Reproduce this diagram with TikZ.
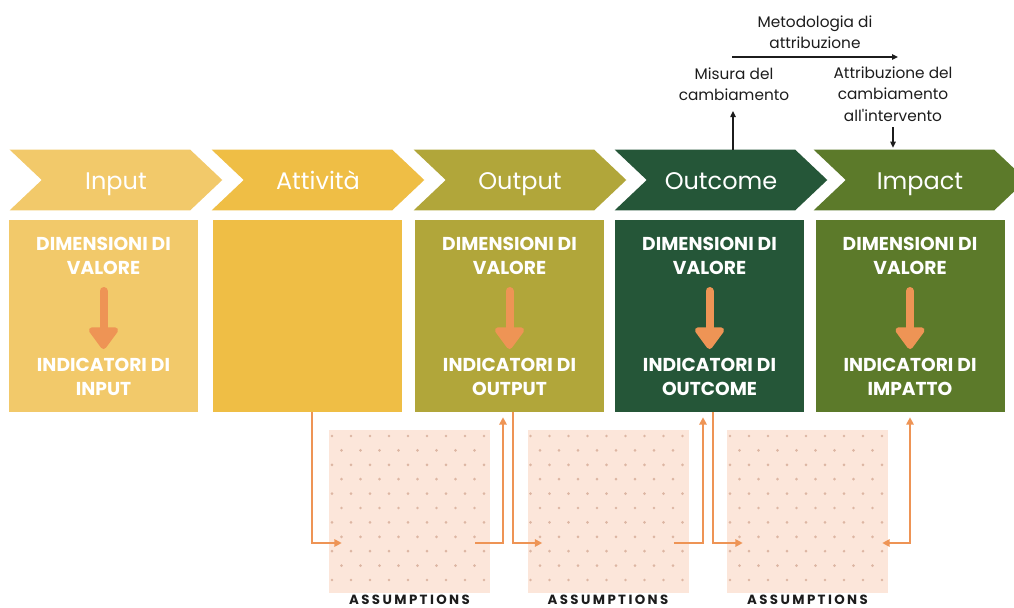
\documentclass[tikz,border=0pt]{standalone}
\usepackage{fontspec}
\setmainfont{Poppins}
\usetikzlibrary{arrows.meta}
\definecolor{cin}{HTML}{F2C96A}
\definecolor{cat}{HTML}{EFBE45}
\definecolor{cou}{HTML}{B1A63A}
\definecolor{coc}{HTML}{255638}
\definecolor{cim}{HTML}{5C7A2A}
\definecolor{corg}{HTML}{EE9455}
\definecolor{cas}{HTML}{FCE6DA}
\definecolor{cdot}{HTML}{DDB6A3}
\definecolor{ctx}{HTML}{1C1C1C}
\tikzset{
  chevbox/.style={minimum width=159pt, minimum height=45pt, inner sep=0pt},
  chevtext/.style={text=white, font=\fontsize{18}{20}\selectfont, inner sep=0pt, anchor=base},
  boxsty/.style={minimum width=141.75pt, minimum height=144pt, inner sep=0pt},
  boxtext/.style={text=white, align=center, font=\fontsize{14}{18}\bfseries\selectfont, inner sep=0pt},
  bigarrow/.style={draw=corg, line width=6pt, line cap=round, -{Triangle[length=18pt,width=25pt,round]}},
  assum/.style={fill=cas, minimum width=120.75pt, minimum height=122.25pt, inner sep=0pt},
  assumtext/.style={text=ctx, font=\fontsize{10}{12}\bfseries\addfontfeatures{LetterSpace=18}\selectfont, inner sep=0pt},
  conn/.style={draw=corg, line width=1.4pt, -{Triangle[length=5.5pt,width=5.5pt]}},
  blk/.style={draw=ctx, line width=1pt, -{Triangle[length=4.5pt,width=4pt]}},
  toptext/.style={text=ctx, align=center, font=\fontsize{11.5}{16}\selectfont, inner sep=0pt},
}
\newcommand{\chevnode}[4]{%
  \node[chevbox] (#1) at (#2,180) {};
  \fill[#3] (#1.north west) -- ([xshift=-24pt]#1.north east) -- (#1.east)
    -- ([xshift=-24pt]#1.south east) -- (#1.south west) -- ([xshift=24pt]#1.west) -- cycle;
  \node[chevtext] (#1t) at (#2,189) {#4};}
\newcommand{\dotgrid}[1]{%
  \foreach \r in {0,...,10}{%
    \pgfmathtruncatemacro{\oddrow}{mod(\r,2)}%
    \ifnum\oddrow=0
      \foreach \k in {0,...,8}{\fill[cdot] (#1+3+19*\k, 436+14.4*\r) circle (1.1pt);}
    \else
      \foreach \k in {0,...,7}{\fill[cdot] (#1+12.5+19*\k, 436+14.4*\r) circle (1.1pt);}
    \fi}}
\begin{document}
\begin{tikzpicture}[x=0.75pt,y=-0.75pt]
\useasboundingbox (0,0) rectangle (1014,607);
\clip (0,0) rectangle (1014,607);

% chevrons
\chevnode{c1}{116}{cin}{Input}
\chevnode{c2}{318}{cat}{Attività}
\chevnode{c3}{520}{cou}{Output}
\chevnode{c4}{721}{coc}{Outcome}
\chevnode{c5}{920}{cim}{Impact}

% boxes
\node[boxsty, fill=cin] (b1) at (103.5,316) {};
\node[boxsty, fill=cat] (b2) at (307,316) {};
\node[boxsty, fill=cou] (b3) at (509.5,316) {};
\node[boxsty, fill=coc] (b4) at (709.5,316) {};
\node[boxsty, fill=cim] (b5) at (910,316) {};

\foreach \n/\x/\lab in {1/103.5/INPUT, 3/509.5/OUTPUT, 4/709.5/OUTCOME, 5/910/IMPATTO}{
  \node[boxtext] (d\n) at (\x,256) {DIMENSIONI DI\\VALORE};
  \node[boxtext] (i\n) at (\x,377) {INDICATORI DI\\\lab};
  \coordinate (s\n) at (\x,291);
  \coordinate (e\n) at (\x,349);
  \draw[bigarrow] (s\n) -- (e\n);
}

% assumptions
\node[assum] (a1) at (409.5,511.5) {};
\node[assum] (a2) at (608,511.5) {};
\node[assum] (a3) at (807.5,511.5) {};
\dotgrid{329}
\dotgrid{527.5}
\dotgrid{727}
\node[assumtext] (l1) at (409.5,599.5) {ASSUMPTIONS};
\node[assumtext] (l2) at (608,599.5) {ASSUMPTIONS};
\node[assumtext] (l3) at (807.5,599.5) {ASSUMPTIONS};

% orange connectors
\draw[conn] ([shift={(5,0)}]b2.south) |- ([shift={(13,31.5)}]a1.west);
\draw[conn, shorten >=3.75pt] ([shift={(-15,31.5)}]a1.east) -| ([shift={(-6.5,0)}]b3.south);
\draw[conn] ([shift={(3.5,0)}]b3.south) |- ([shift={(15,31.5)}]a2.west);
\draw[conn, shorten >=3.75pt] ([shift={(-15,31.5)}]a2.east) -| ([shift={(-6.5,0)}]b4.south);
\draw[conn] ([shift={(3.5,0)}]b4.south) |- ([shift={(16,31.5)}]a3.west);
\draw[conn, {Triangle[length=5.5pt,width=5.5pt]}-{Triangle[length=5.5pt,width=5.5pt]}, shorten >=3.75pt] ([shift={(-6,31.5)}]a3.east) -| (b5.south);

% top annotations
\node[toptext] (met) at (815,32) {Metodologia di\\attribuzione};
\node[toptext] (ms) at (734,84) {Misura del\\cambiamento};
\node[toptext] (att) at (893,94) {Attribuzione del\\cambiamento\\all\textquotesingle intervento};
\coordinate (m1) at (732,57);
\coordinate (m2) at (898,57);
\draw[blk] (m1) -- (m2);
\coordinate (u1) at (733,111);
\draw[blk] (c4.north -| u1) -- (u1);
\coordinate (v1) at (893,127);
\draw[blk, shorten >=1.5pt] (v1) -- (c5.north -| v1);
\end{tikzpicture}
\end{document}
